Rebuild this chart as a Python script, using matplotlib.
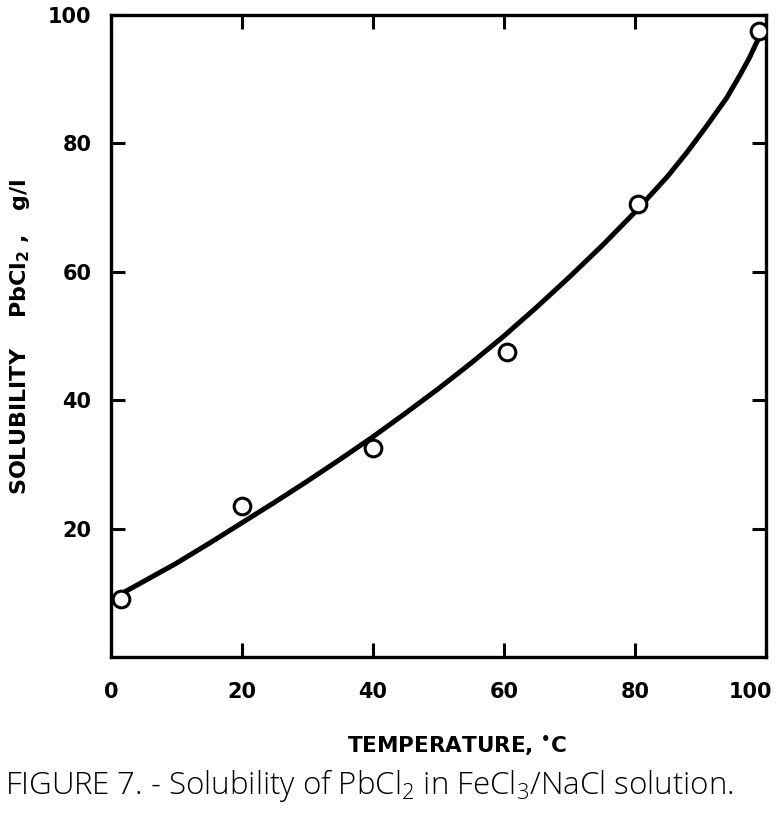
import matplotlib
matplotlib.use('Agg')
import matplotlib.pyplot as plt
import matplotlib.transforms as mtransforms

plt.rcParams['mathtext.fontset'] = 'custom'
plt.rcParams['mathtext.rm'] = 'Open Sans:light'
plt.rcParams['mathtext.bf'] = 'DejaVu Sans:bold'

# measured points (temperature, solubility)
temp_pts = [1.5, 20, 40, 60.5, 80.5, 99]
sol_pts = [9.0, 23.5, 32.5, 47.5, 70.5, 97.5]

# fitted curve
curve_t = [1.5, 4, 7, 10, 15, 20, 25, 30, 35, 40, 45, 50, 55, 60, 65, 70, 75,
           80, 85, 88, 91, 94, 96, 97.5, 98.5, 99.3]
curve_s = [9.8, 11.2, 12.9, 14.6, 17.7, 20.9, 24.1, 27.4, 30.8, 34.3, 38.0, 41.8, 45.8,
           50.0, 54.5, 59.2, 64.1, 69.3, 74.9, 78.7, 82.8, 87.1, 90.6, 93.4, 95.6, 97.2]

xticks = [0, 20, 40, 60, 80, 100]
yticks = [20, 40, 60, 80, 100]

fig = plt.figure(figsize=(7.82, 8.17), dpi=100)
ax = fig.add_axes([0.142, 0.196, 0.8375, 0.7855])

ax.plot(curve_t, curve_s, color='black', lw=3.6, solid_capstyle='round',
        solid_joinstyle='round', zorder=2)
ax.plot(temp_pts, sol_pts, 'o', ms=12, mfc='white', mec='black', mew=2.2,
        zorder=3)

ax.set_xlim(0, 100)
ax.set_ylim(0, 100)
ax.set_xticks(xticks)
ax.set_yticks(yticks)

for s in ax.spines.values():
    s.set_linewidth(2.4)
ax.tick_params(direction='in', length=10, width=2.2, top=True, right=True,
               labelsize=15, pad=14)
ax.tick_params(axis='x', pad=18)
for lab in ax.get_xticklabels() + ax.get_yticklabels():
    lab.set_fontweight('bold')

# last x label sits a little left of its tick in the original
last = ax.get_xticklabels()[-1]
last.set_transform(last.get_transform() +
                   mtransforms.ScaledTranslation(-11 / 72, 0, fig.dpi_scale_trans))

fig.text(0.026, 0.588, 'SOLUBILITY    PbCl$_\\mathbf{2}$ ,   g/l', rotation=90,
         ha='center', va='center', fontsize=16, fontweight='bold')
fig.text(0.584, 0.087, 'TEMPERATURE, $^\\mathbf{\u2022}$C', ha='center', va='center',
         fontsize=15.5, fontweight='bold')
fig.text(0.006, 0.039,
         'FIGURE 7. - Solubility of PbCl$_2$ in FeCl$_3$/NaCl solution.',
         ha='left', va='center', fontsize=22.5, family='Open Sans',
         fontweight='light', color='black')

fig.savefig('out.png', dpi=100, facecolor='white')
